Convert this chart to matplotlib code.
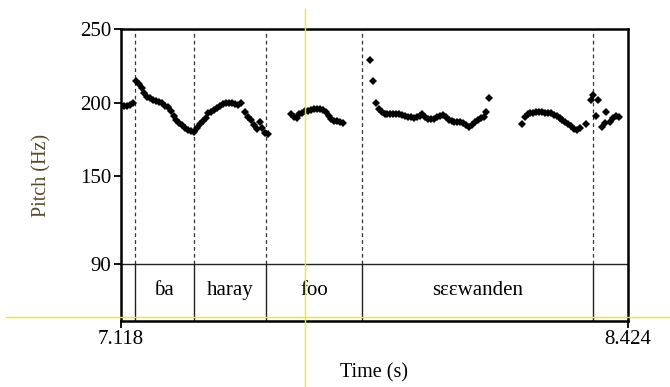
import matplotlib
matplotlib.use("Agg")
import matplotlib.pyplot as plt
from matplotlib.lines import Line2D
import numpy as np

plt.rcParams['font.family'] = ['Liberation Serif', 'DejaVu Serif']

# ---- data ----
t_min, t_max = 7.118, 8.424
f_bottom, f_min, f_max = 51.4, 90, 250
y_ticks = [90, 150, 200, 250]
x_ticks = [7.118, 8.424]
x_tick_labels = ["7.118", "8.424"]

frame_step = 0.0075
seg_A_start = 7.120
seg_A = [197.5, 198.0, 197.5, 198.5, 200.0]
seg_B_start = 7.1566
seg_B = [215, 212.5, 209.8, 206.5, 204.2, 203, 201.8, 201.2, 200.4, 199.5,
         198, 196.8, 194, 190.8, 188, 186.2, 184.5, 182.7, 181.3, 180.5,
         180.2, 183, 185.5, 187.3, 189.5, 193, 193.8, 194.8, 196.3, 197.8,
         198.8, 199.5, 200, 199.6, 199, 198.6, 200]
seg_B2_start = 7.4382
seg_B2 = [193.8, 190.4, 188, 185, 182, 186.5, 183, 179.5, 178.5]
seg_C_start = 7.5559
seg_C = [192.3, 190, 189.5, 192, 193.2, 194, 194.5, 195, 195.5, 195.8,
         195.6, 194.8, 193.5, 191, 189, 187.8, 187.2, 186.8, 186.2]
seg_D_start = 7.7602
seg_D = [229, 214.8, 199.5, 195.5, 193.5, 192.5, 192.3, 192.3, 192.3, 192.5,
         192, 191.5, 191, 190.3, 190, 189.8, 190, 191, 192, 190.5,
         189.2, 188.8, 189, 190, 191, 191.5, 190, 188.5, 187.2, 187,
         187, 186.5, 186, 185, 183.3, 184.5, 186.8, 188.5, 189.5, 190.2,
         193.5, 203]
seg_E_start = 8.151
seg_E = [185.7, 190.5, 192.3, 193, 193.2, 193.5, 193.8, 193.6, 193.2, 193,
         192.7, 191.8, 190.9, 189.6, 188.3, 187, 185.5, 184, 182.3, 181.5, 182.5]
seg_F_times = [8.3174, 8.3303, 8.3347, 8.3432, 8.3476, 8.3580, 8.3650, 8.3689,
               8.3777, 8.3862, 8.3947, 8.4009]
seg_F = [185.7, 201.8, 205.2, 191.2, 201.8, 183.4, 186.0, 193.8,
         187.0, 189.3, 191.2, 190.5]

boundaries = [7.156, 7.308, 7.4915, 7.7406, 8.334]
interval_labels = ["ɓa", "haray", "foo", "sɛɛwanden"]
interval_spans = [(7.156, 7.308), (7.308, 7.4915), (7.4915, 7.7406), (7.7406, 8.334)]

# ---- figure ----
W, H = 670, 387
fig = plt.figure(figsize=(W / 100, H / 100), dpi=100)
ax = fig.add_axes([120.7 / W, 1 - 320.7 / H, (627.7 - 120.7) / W, (320.7 - 29.3) / H])
ax.set_xlim(t_min, t_max)
ax.set_ylim(f_bottom, f_max)

# pitch points
segs = [(seg_A_start, seg_A), (seg_B_start, seg_B), (seg_B2_start, seg_B2),
        (seg_C_start, seg_C), (seg_D_start, seg_D), (seg_E_start, seg_E)]
for start, vals in segs:
    ts = start + frame_step * np.arange(len(vals))
    ax.plot(ts, vals, linestyle='none', marker='D', markersize=3.6,
            color='black', markeredgewidth=0, zorder=3)
ax.plot(seg_F_times, seg_F, linestyle='none', marker='D', markersize=3.6,
        color='black', markeredgewidth=0, zorder=3)

# tier
ax.axhline(f_min, color='#222222', linewidth=1.0, zorder=2)
for b in boundaries:
    ax.plot([b, b], [f_min, f_max], linestyle=(0, (3, 2.5)), color='#333333',
            linewidth=0.9, zorder=2)
    ax.plot([b, b], [f_bottom, f_min], linestyle='-', color='#222222',
            linewidth=1.0, zorder=2)
for lab, (a, b) in zip(interval_labels, interval_spans):
    ax.text((a + b) / 2, (f_bottom + f_min) / 2 + 1, lab, ha='center', va='center',
            fontsize=15, color='black')

# axes styling
for s in ax.spines.values():
    s.set_linewidth(1.8)
    s.set_color('black')
ax.set_yticks(y_ticks)
ax.set_yticklabels([str(v) for v in y_ticks])
ax.set_xticks(x_ticks)
ax.set_xticklabels(x_tick_labels)
ax.tick_params(axis='both', direction='out', length=5, width=1.3,
               labelsize=15, pad=2, colors='black')
ax.set_xlabel("Time (s)", fontsize=14.5, labelpad=10)
ax.set_ylabel("Pitch (Hz)", fontsize=14.5, labelpad=20, color='#5a4a2a')

# yellow cursor lines
fig.add_artist(Line2D([6 / W, 1.0], [1 - 317.3 / H, 1 - 317.3 / H],
                      color='#eeee00', linewidth=1.0, transform=fig.transFigure, zorder=1))
fig.add_artist(Line2D([305.3 / W, 305.3 / W], [1 - 9.3 / H, 0.0],
                      color='#eeee00', linewidth=1.0, transform=fig.transFigure, zorder=1))

fig.savefig("out.png", dpi=100)
